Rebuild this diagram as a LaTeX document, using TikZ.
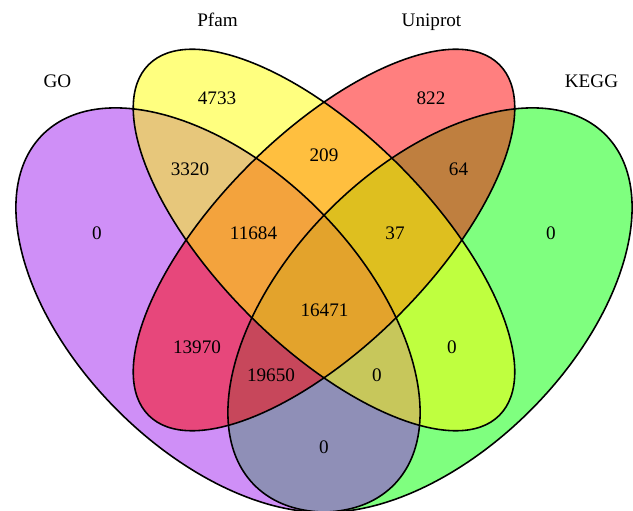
\documentclass[tikz,border=0pt]{standalone}
\usepackage{fontspec}
\setmainfont{Liberation Serif}
\definecolor{goColor}{HTML}{A020F0}
\definecolor{pfamColor}{HTML}{FFFF00}
\definecolor{uniColor}{HTML}{FF0000}
\definecolor{keggColor}{HTML}{00FF00}
\begin{document}
\begin{tikzpicture}[x=0.02cm, y=0.02cm, font=\fontsize{10.9}{13}\selectfont,
        setfill/.style={fill=#1, fill opacity=0.5},
        setline/.style={draw=black, line width=0.9pt},
        count/.style={anchor=base, inner sep=0pt}]
        \useasboundingbox (0,0) rectangle (633,511);
        \clip (0,0) rectangle (633,511);

        % --- RELLENOS (KEGG, GO, Uniprot, Pfam) ---
        \fill[setfill=keggColor, shift={(430,201)}, rotate=45] (0,0) ellipse [x radius=248, y radius=142];
        \fill[setfill=goColor, shift={(218,201)}, rotate=-45] (0,0) ellipse [x radius=248, y radius=142];
        \fill[setfill=uniColor, shift={(324,271)}, rotate=45] (0,0) ellipse [x radius=248, y radius=106];
        \fill[setfill=pfamColor, shift={(324,271)}, rotate=-45] (0,0) ellipse [x radius=248, y radius=106];

        % --- CONTORNOS ---
        \foreach \cx/\cy/\rb/\ang in {218/201/142/-45, 324/271/106/-45, 324/271/106/45, 430/201/142/45}
            \draw[setline, shift={(\cx,\cy)}, rotate=\ang] (0,0) ellipse [x radius=248, y radius=\rb];

        % --- NOMBRES DE LOS CONJUNTOS ---
        \node[count] (goName) at (57.5,423.7) {GO};
        \node[count] (pfamName) at (217.5,484.3) {Pfam};
        \node[count] (uniName) at (431.5,484.3) {Uniprot};
        \node[count] (keggName) at (591.5,423.7) {KEGG};

        % --- CUENTAS POR REGION ---
        \foreach \name/\x/\y/\val in {g/97/271.5/0, p/217/406.5/4733, u/431/406.5/822, k/551/271.5/0,
                gp/190/335.5/3320, pu/324/349.5/209, uk/458.5/335.5/64,
                gpu/253.5/271.5/11684, puk/395/271.5/37, gpuk/324.5/194/16471,
                gu/197/157.5/13970, pk/452/157.5/0, guk/271/129.5/19650,
                gpk/377/129.5/0, gk/324/57.5/0}
            \node[count] (n\name) at (\x,\y) {\val};
\end{tikzpicture}
\end{document}
